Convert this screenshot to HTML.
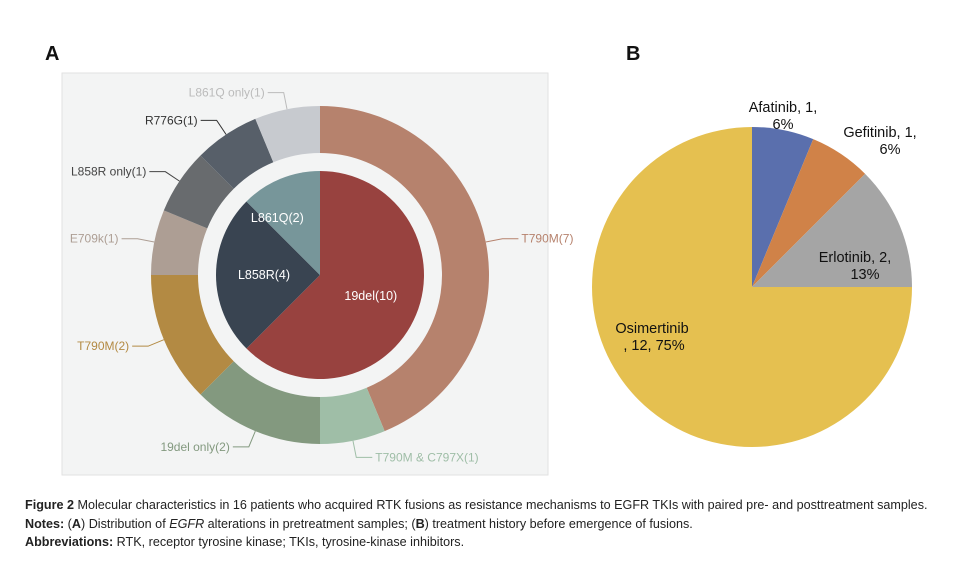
<!DOCTYPE html>
<html><head><meta charset="utf-8"><style>
body{margin:0;background:#fff;width:965px;height:563px;overflow:hidden;font-family:"Liberation Sans",sans-serif}
.cap{position:absolute;left:25px;font-family:"Liberation Sans Narrow","Liberation Sans",sans-serif;font-size:12.6px;color:#222;white-space:nowrap}
</style></head><body>
<svg width="965" height="563" style="position:absolute;left:0;top:0">
<text x="45" y="60" font-size="20" font-weight="bold" fill="#111">A</text>
<text x="626" y="60" font-size="20" font-weight="bold" fill="#111">B</text>
<rect x="62" y="73" width="486" height="402" fill="#f3f4f4" stroke="#e2e2e2"/>
<g id="ga"></g><g id="gb"></g>
</svg>
<div class="cap" style="top:498px"><b>Figure 2</b> Molecular characteristics in 16 patients who acquired RTK fusions as resistance mechanisms to EGFR TKIs with paired pre- and posttreatment samples.</div>
<div class="cap" style="top:517px"><b>Notes:</b> (<b>A</b>) Distribution of <i>EGFR</i> alterations in pretreatment samples; (<b>B</b>) treatment history before emergence of fusions.</div>
<div class="cap" style="top:535px"><b>Abbreviations:</b> RTK, receptor tyrosine kinase; TKIs, tyrosine-kinase inhibitors.</div>
<script>
const innerLabels=["19del","L858R","L861Q"];
const innerValues=[10,4,2];
const outerLabels=["T790M","T790M & C797X","19del only","T790M","E709k","L858R only","R776G","L861Q only"];
const outerValues=[7,1,2,2,1,1,1,1];
const drugLabels=["Afatinib","Gefitinib","Erlotinib","Osimertinib"];
const drugValues=[1,1,2,12];
const NS="http://www.w3.org/2000/svg";
function el(t,a,p){const e=document.createElementNS(NS,t);for(const k in a)e.setAttribute(k,a[k]);p.appendChild(e);return e;}
function pt(cx,cy,r,a){return [cx+r*Math.sin(a),cy-r*Math.cos(a)];}
function arc(cx,cy,r0,r1,a0,a1){const l=(a1-a0)>Math.PI?1:0;const p1=pt(cx,cy,r1,a0),p2=pt(cx,cy,r1,a1);
 if(r0<=0)return `M${cx},${cy}L${p1}A${r1},${r1} 0 ${l} 1 ${p2}Z`;
 const p3=pt(cx,cy,r0,a1),p4=pt(cx,cy,r0,a0);return `M${p1}A${r1},${r1} 0 ${l} 1 ${p2}L${p3}A${r0},${r0} 0 ${l} 0 ${p4}Z`;}
const ga=document.getElementById('ga'),gb=document.getElementById('gb');
const cx=320,cy=275;
const inC=["#98423f","#394451","#77969a"];
const outC=["#b6826d","#9fbea7","#83997f","#b38a43","#ad9e94","#686b6e","#575f69","#c7cacf"];
const outT=["#b6826d","#9fbea7","#83997f","#b38a43","#ad9e94","#444","#333","#bbb"];
let tot=innerValues.reduce((a,b)=>a+b,0),a=0;
innerValues.forEach((v,i)=>{const a1=a+v/tot*2*Math.PI;
 const p=el('path',{d:arc(cx,cy,0,104,a,a1),fill:inC[i]},ga);
 
 
 const m=(a+a1)/2;const q=pt(cx,cy,i==0?55:(i==1?56:54),m);
 const t=el('text',{x:q[0]+(i==2?-22:0),y:q[1]+(i==2?-3:4),'font-size':12.5,fill:'#fff','text-anchor':'middle'},ga);t.textContent=innerLabels[i]+'('+v+')';
 
 
 a=a1;});
tot=outerValues.reduce((a,b)=>a+b,0);a=0;
outerValues.forEach((v,i)=>{const a1=a+v/tot*2*Math.PI;
 const p=el('path',{d:arc(cx,cy,122,169,a,a1),fill:outC[i]},ga);
 
 
 const m=(a+a1)/2;const s=pt(cx,cy,169,m),e=pt(cx,cy,186,m);const right=Math.sin(m)>=0;
 const ex=e[0]+(right?16:-16);
 el('polyline',{points:`${s} ${e} ${ex},${e[1]}`,fill:'none',stroke:outT[i],'stroke-width':1},ga);
 const t=el('text',{x:ex+(right?3:-3),y:e[1]+4,'font-size':12,fill:outT[i],'text-anchor':right?'start':'end'},ga);t.textContent=outerLabels[i]+'('+v+')';
 
 
 a=a1;});
const bx=752,by=287,br=160;
const bC=["#5a6fad","#d08248","#a5a5a5","#e5c050"];
tot=drugValues.reduce((a,b)=>a+b,0);a=0;
const lp=[[783,112,"middle"],[880,137,"middle"],[855,262,"middle"],[652,333,"middle"]];
drugValues.forEach((v,i)=>{const a1=a+v/tot*2*Math.PI;
 const p=el('path',{d:arc(bx,by,0,br,a,a1),fill:bC[i]},gb);
 
 
 const pct=Math.round(v/tot*100)+'%';
 const l1=i==3?drugLabels[i]:drugLabels[i]+', '+v+',';const l2=i==3?', '+v+', '+pct:pct;
 const t=el('text',{x:lp[i][0],y:lp[i][1],'font-size':14.5,fill:'#111','text-anchor':'middle'},gb);
 
 
 const s1=el('tspan',{x:lp[i][0]},t);s1.textContent=l1;
 const s2=el('tspan',{x:lp[i][0]+(i==3?2:(i==0?0:10)),dy:17},t);s2.textContent=l2;
 a=a1;});
</script>
</body></html>
